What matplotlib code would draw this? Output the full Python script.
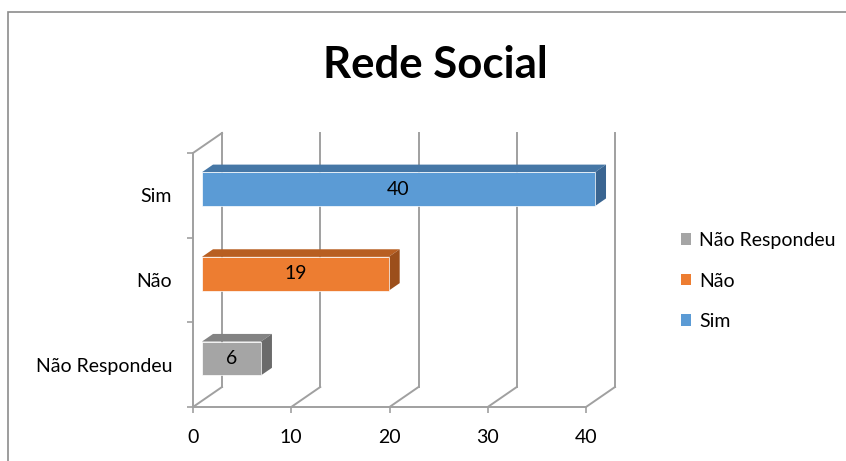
import numpy as np
import matplotlib.pyplot as plt
from matplotlib.patches import Polygon, Rectangle, Patch

# dados do grafico
categorias = ['Não Respondeu', 'Não', 'Sim']
valores = [6, 19, 40]
cores = ['#a5a5a5', '#ed7d31', '#5b9bd5']
cores_topo = ['#838383', '#b85f22', '#4677a6']
cores_lado = ['#6b6b6b', '#9c4f1b', '#3a6591']
xticks = [0, 10, 20, 30, 40]

plt.rcParams['font.family'] = ['Lato', 'DejaVu Sans']

W, H = 846, 461
fig = plt.figure(figsize=(W / 100, H / 100), dpi=100)

# plano frontal do grafico em pixels
px0, px1 = 193, 586
py_top, py_bot = 153, 407
ax = fig.add_axes([px0 / W, (H - py_bot) / H, (px1 - px0) / W, (py_bot - py_top) / H])
ax.set_xlim(0, 40)
ax.set_ylim(-0.5, 2.5)

# profundidade 3D em unidades de dados
DX = 29 / ((px1 - px0) / 40)
DY = 20 / ((py_bot - py_top) / 3)
a, b = 0.31, 0.69
h = 0.2
cinza = '#a0a0a0'

# parede do fundo e chao
for t in xticks:
    ax.plot([t + DX, t + DX], [-0.5 + DY, 2.5 + DY], color=cinza, lw=1.4, zorder=0, clip_on=False)
    ax.plot([t, t + DX], [-0.5, -0.5 + DY], color=cinza, lw=1.4, zorder=0, clip_on=False)
ax.plot([0, DX], [2.5, 2.5 + DY], color=cinza, lw=1.4, zorder=0, clip_on=False)

# barras
ys = np.arange(len(categorias))
ax.barh(ys + a * DY, valores, height=2 * h, left=a * DX, color=cores,
        edgecolor='white', linewidth=0.5, zorder=3, clip_on=False)
for i, v in enumerate(valores):
    yc = ys[i]
    topo = [(a * DX, yc + h + a * DY), (v + a * DX, yc + h + a * DY),
            (v + b * DX, yc + h + b * DY), (b * DX, yc + h + b * DY)]
    lado = [(v + a * DX, yc - h + a * DY), (v + b * DX, yc - h + b * DY),
            (v + b * DX, yc + h + b * DY), (v + a * DX, yc + h + a * DY)]
    ax.add_patch(Polygon(topo, closed=True, facecolor=cores_topo[i], edgecolor='none', zorder=2, clip_on=False))
    ax.add_patch(Polygon(lado, closed=True, facecolor=cores_lado[i], edgecolor='none', zorder=2, clip_on=False))
    ax.text(v / 2 + a * DX, yc + a * DY, str(v), ha='center', va='center', fontsize=14, zorder=4)

# eixos
for s in ['top', 'right']:
    ax.spines[s].set_visible(False)
for s in ['left', 'bottom']:
    ax.spines[s].set_color(cinza)
    ax.spines[s].set_linewidth(1.4)
ax.set_xticks(xticks)
ax.set_yticks([-0.5, 0.5, 1.5, 2.5])
ax.set_yticklabels([])
ax.set_yticks(ys, minor=True)
ax.set_yticklabels(categorias, minor=True)
ax.tick_params(axis='y', which='major', length=4, color=cinza, width=1.2)
ax.tick_params(axis='y', which='minor', length=0, pad=15, labelsize=14)
ax.tick_params(axis='x', length=4, color=cinza, width=1.2, pad=12, labelsize=14)
ax.patch.set_alpha(0)

# titulo
fig.text(435 / W, 1 - 65 / H, 'Rede Social', ha='center', va='center', fontsize=31.5, fontweight='bold')

# legenda
handles = [Patch(facecolor=c) for c in cores]
fig.legend(handles, categorias, loc='center left', bbox_to_anchor=(663 / W, 1 - 281 / H),
           frameon=False, fontsize=14, handlelength=0.55, handleheight=0.55,
           handletextpad=0.4, labelspacing=1.2)

# moldura
fig.patches.append(Rectangle((8 / W, -0.1), 1.2, 1.1 - 12 / H, transform=fig.transFigure,
                             fill=False, edgecolor='#8c8c8c', linewidth=1.2))

fig.savefig('out.png', dpi=100)
